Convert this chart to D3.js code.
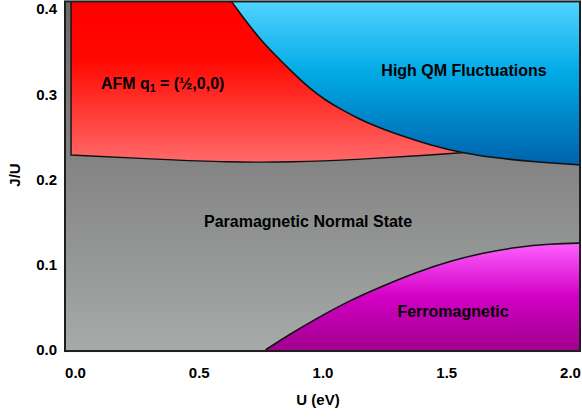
<!DOCTYPE html>
<html>
<head>
<meta charset="utf-8">
<script src="https://cdn.jsdelivr.net/npm/d3@7"></script>
<style>
  body { margin: 0; background: #fff; }
  text { font-family: "Liberation Sans", Arial, Helvetica, sans-serif; font-weight: bold; fill: #000; }
</style>
</head>
<body>
<div id="chart"></div>
<script>
// tick values
var uTicks = [0.0, 0.5, 1.0, 1.5, 2.0];
var jTicks = [0.0, 0.1, 0.2, 0.3, 0.4];

// lower edge of the AFM region
var afmU = [-0.016, 0.343, 0.614, 0.881, 1.152, 1.446, 1.568];
var afmJ = [0.2286, 0.2235, 0.220, 0.220, 0.2235, 0.2286, 0.2313];

// boundary of the high QM fluctuation region
var qmU = [0.603, 0.634, 0.687, 0.739, 0.808, 0.877, 0.941, 1.010, 1.079, 1.143, 1.212, 1.281,
           1.446, 1.568, 1.705, 1.838, 2.044, 2.10];
var qmJ = [0.420, 0.4083, 0.3872, 0.3676, 0.3460, 0.3261, 0.3085, 0.2932, 0.2815, 0.2717, 0.2626, 0.2548,
           0.2391, 0.2309, 0.2250, 0.2209, 0.2168, 0.2160];

// top edge of the ferromagnetic region
var ferroU = [0.772, 0.869, 0.978, 1.111, 1.244, 1.382, 1.515, 1.648, 1.786, 1.919, 2.040, 2.10];
var ferroJ = [0.0, 0.0182, 0.0368, 0.0578, 0.0748, 0.0911, 0.1040, 0.1134, 0.1204, 0.1240, 0.1252, 0.1253];

var svgWidth = 582, svgHeight = 418;

var svg = d3.select("#chart").append("svg")
    .attr("width", svgWidth)
    .attr("height", svgHeight);

var xScale = d3.scaleLinear().domain([0, 2]).range([75, 570]);
var yScale = d3.scaleLinear().domain([0, 0.4]).range([349.5, 9.1]);

// plot frame in data units
var uMin = -0.0404, uMax = 2.0404, jMin = -0.0018, jMax = 0.409;

var defs = svg.append("defs");

function grad(id, y1, y2, stops) {
    var g = defs.append("linearGradient")
        .attr("id", id)
        .attr("gradientUnits", "userSpaceOnUse")
        .attr("x1", 0).attr("x2", 0)
        .attr("y1", y1).attr("y2", y2);
    stops.forEach(function (s) {
        g.append("stop").attr("offset", s[0]).attr("stop-color", s[1]);
    });
}

grad("gGray", yScale(jMax), yScale(jMin), [[0, "#6a6a6a"], [0.45, "#838383"], [1, "#a6aaa8"]]);
grad("gRed", yScale(jMax), yScale(0.22), [[0, "#ff0000"], [0.36, "#ff0800"], [1, "#ff6a6a"]]);
grad("gBlue", yScale(jMax), yScale(0.2168), [[0, "#50d4ff"], [0.45, "#00a8e4"], [1, "#0062ac"]]);
grad("gMag", yScale(0.1252), yScale(jMin), [[0, "#ff60ff"], [0.5, "#d200c4"], [1, "#a0008e"]]);

defs.append("clipPath").attr("id", "frameClip")
    .append("rect")
    .attr("x", xScale(uMin)).attr("y", yScale(jMax))
    .attr("width", xScale(uMax) - xScale(uMin))
    .attr("height", yScale(jMin) - yScale(jMax));

var plot = svg.append("g").attr("clip-path", "url(#frameClip)");

// background: paramagnetic normal state
plot.append("rect")
    .attr("x", xScale(uMin)).attr("y", yScale(jMax))
    .attr("width", xScale(uMax) - xScale(uMin))
    .attr("height", yScale(jMin) - yScale(jMax))
    .attr("fill", "url(#gGray)");

var curve = d3.line()
    .x(d => xScale(d[0]))
    .y(d => yScale(d[1]))
    .curve(d3.curveBasis);

function pt(u, j) { return xScale(u) + "," + yScale(j); }

// AFM region
var afmPts = afmU.map((u, i) => [u, afmJ[i]]);
var afmPath = curve(afmPts)
    + "L" + pt(afmU[afmU.length - 1], 0.43)
    + "L" + pt(afmU[0], 0.43) + "Z";
plot.append("path")
    .attr("d", afmPath)
    .attr("fill", "url(#gRed)")
    .attr("stroke", "#111")
    .attr("stroke-width", 1.4);

// high QM fluctuations region
var qmPts = qmU.map((u, i) => [u, qmJ[i]]);
var qmPath = curve(qmPts)
    + "L" + pt(2.1, 0.43)
    + "L" + pt(qmU[0], 0.43) + "Z";
plot.append("path")
    .attr("d", qmPath)
    .attr("fill", "url(#gBlue)")
    .attr("stroke", "#111")
    .attr("stroke-width", 1.6);

// ferromagnetic region
var ferroPts = ferroU.map((u, i) => [u, ferroJ[i]]);
var ferroPath = curve(ferroPts)
    + "L" + pt(2.1, -0.01)
    + "L" + pt(ferroU[0], -0.01) + "Z";
plot.append("path")
    .attr("d", ferroPath)
    .attr("fill", "url(#gMag)")
    .attr("stroke", "#111")
    .attr("stroke-width", 1.6);

// frame
svg.append("rect")
    .attr("x", xScale(uMin)).attr("y", yScale(jMax))
    .attr("width", xScale(uMax) - xScale(uMin))
    .attr("height", yScale(jMin) - yScale(jMax))
    .attr("fill", "none")
    .attr("stroke", "#1e1e1e")
    .attr("stroke-width", 2);

// region labels
svg.append("text")
    .attr("x", 204).attr("y", 221)
    .attr("dy", "0.35em")
    .attr("font-size", "16px")
    .text("Paramagnetic Normal State");

svg.append("text")
    .attr("x", 464).attr("y", 70)
    .attr("dy", "0.35em")
    .attr("text-anchor", "middle")
    .attr("font-size", "16px")
    .text("High QM Fluctuations");

svg.append("text")
    .attr("x", 453).attr("y", 311)
    .attr("dy", "0.35em")
    .attr("text-anchor", "middle")
    .attr("font-size", "16px")
    .text("Ferromagnetic");

var afmLabel = svg.append("text")
    .attr("x", 101).attr("y", 83)
    .attr("dy", "0.35em")
    .attr("font-size", "16px");
afmLabel.append("tspan").text("AFM q");
afmLabel.append("tspan").attr("font-size", "10px").attr("dy", "3").text("1");
afmLabel.append("tspan").attr("dy", "-3").text(" = (\u00bd,0,0)");

// axes (labels only, the frame acts as the axis line)
var xAxis = d3.axisBottom(xScale).tickValues(uTicks).tickSize(0).tickPadding(0)
    .tickFormat(d3.format(".1f"));
var gx = svg.append("g")
    .attr("transform", "translate(0, 365)")
    .call(xAxis);
gx.select(".domain").remove();
gx.selectAll("text")
    .attr("y", 8)
    .attr("dy", "0.35em")
    .attr("font-size", "15px")
    .attr("font-family", "Liberation Sans, Arial, sans-serif")
    .attr("font-weight", "bold")
    .attr("fill", "#000");

var yAxis = d3.axisLeft(yScale).tickValues(jTicks).tickSize(0).tickPadding(0)
    .tickFormat(d3.format(".1f"));
var gy = svg.append("g")
    .attr("transform", "translate(57, 0)")
    .call(yAxis);
gy.select(".domain").remove();
gy.selectAll("text")
    .attr("x", 0)
    .attr("font-size", "15px")
    .attr("font-family", "Liberation Sans, Arial, sans-serif")
    .attr("font-weight", "bold")
    .attr("fill", "#000");

// axis titles
svg.append("text")
    .attr("x", 318).attr("y", 400)
    .attr("dy", "0.35em")
    .attr("text-anchor", "middle")
    .attr("font-size", "15px")
    .text("U (eV)");

svg.append("text")
    .attr("transform", "translate(15, 175) rotate(-90)")
    .attr("dy", "0.35em")
    .attr("text-anchor", "middle")
    .attr("font-size", "15px")
    .text("J/U");
</script>
</body>
</html>
